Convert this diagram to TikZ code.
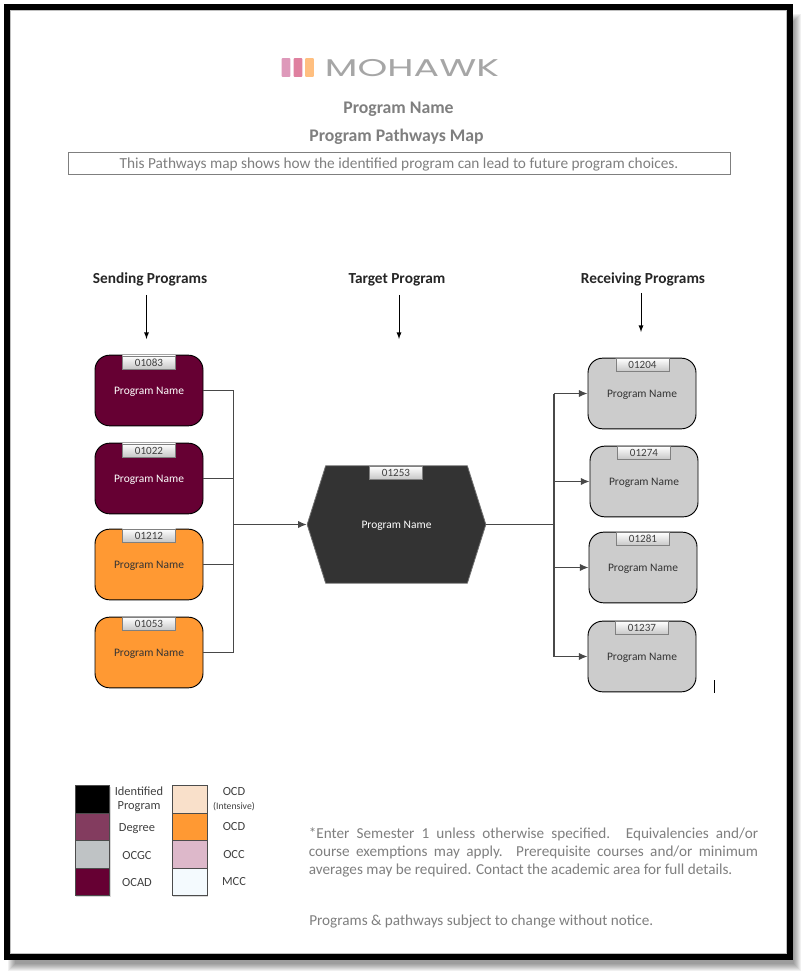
\documentclass[tikz,border=0pt]{standalone}
\usepackage{fontspec}
\usepackage{graphicx}
\setmainfont{Carlito}
\newfontfamily\logofont{Poppins}
\usetikzlibrary{shapes.symbols,shadows,arrows.meta}
\definecolor{ocad}{HTML}{660033}
\definecolor{ocd}{HTML}{FF9933}
\definecolor{recv}{HTML}{CCCCCC}
\definecolor{target}{HTML}{333333}
\definecolor{txtgray}{HTML}{7F7F7F}
\definecolor{wire}{HTML}{484848}
\definecolor{keydegree}{HTML}{833C5F}
\definecolor{keyocgc}{HTML}{BFC3C5}
\definecolor{keyint}{HTML}{F9E0CA}
\definecolor{keyocc}{HTML}{DDB8CA}
\definecolor{keymcc}{HTML}{F4FAFE}
\tikzset{
	progbox/.style={draw=black, rounded corners=11pt, line width=0.7pt, minimum width=81pt, minimum height=53pt, inner sep=0pt, text height=7.2pt, text depth=1.9pt, font=\fontsize{8.6}{10}\selectfont},
	idtab/.style={draw=gray, line width=0.4pt, top color=white, bottom color=gray!45, minimum width=40pt, minimum height=10pt, inner sep=0pt, text=black!75, font=\fontsize{8.3}{10}\selectfont},
	wireline/.style={draw=wire, line width=1pt},
	flowline/.style={wireline, -{Latex[length=6.5pt,width=5.5pt]}},
	headarrow/.style={line width=0.7pt, ->, >=latex},
	swatch/.style={draw=black!70, line width=0.6pt, minimum width=26pt, minimum height=20.6pt, inner sep=0pt, drop shadow={shadow xshift=0.6pt, shadow yshift=-0.6pt, opacity=0.3}},
	keytext/.style={text=black!75, align=center, inner sep=0pt, font=\fontsize{9.3}{10.8}\selectfont},
	colhead/.style={inner sep=0pt, text height=8pt, text depth=2.5pt, text=black!85, font=\bfseries\fontsize{11.5}{13}\selectfont},
	pagehead/.style={inner sep=0pt, text=txtgray, font=\bfseries\fontsize{13.3}{15}\selectfont},
	logobar/.style={minimum width=6.4pt, minimum height=14.2pt, inner sep=0pt, rounded corners=0.6pt}
}
\begin{document}
\begin{tikzpicture}[x=0.75pt, y=-0.75pt]
	\useasboundingbox (0,0) rectangle (805,973);
	\foreach \s in {0,1,...,7}
		\fill[black, opacity=0.06] (8+\s,14+\s) rectangle (801-\s,971-\s);
	\fill[white] (7,7) rectangle (790,956.5);
	\draw[line width=4.5pt] (7,7) rectangle (790,956.5);
	\draw[black!25, line width=0.7pt] (10.5,10.5) rectangle (786.5,953.5);

	\draw (286,67.5) node[logobar, fill=red!35!violet!40!white] (L1) {};
	\draw (298,67.5) node[logobar, fill=purple!50!white] (L2) {};
	\draw (309.5,67.5) node[logobar, fill=orange!50!white] (L3) {};
	\draw (412,68.5) node[inner sep=0pt, text=black!35] (LOGO) {\resizebox{130.5pt}{12.8pt}{\logofont MOHAWK}};
	\draw (398.5,109.5) node[pagehead] (NAME) {Program Name};
	\draw (396.5,136.5) node[pagehead] (MAP) {Program Pathways Map};
	\draw (399,163.5) node[draw=txtgray, line width=0.6pt, minimum width=496.5pt, minimum height=17pt, inner sep=0pt, text height=10pt, text depth=2.6pt, text=txtgray, font=\fontsize{11.5}{13}\selectfont] (INTRO) {This Pathways map shows how the identified program can lead to future program choices.};

	\draw (150,280) node[colhead] (HS) {Sending Programs};
	\draw (397,280) node[colhead] (HT) {Target Program};
	\draw (643,280) node[colhead] (HR) {Receiving Programs};
	\coordinate (HS1) at (146.5,295);
	\coordinate (HS2) at (146.5,339);
	\coordinate (HT1) at (399,295);
	\coordinate (HT2) at (399,339);
	\coordinate (HR1) at (641,293);
	\coordinate (HR2) at (641,332);
	\draw[headarrow] (HS1) to (HS2);
	\draw[headarrow] (HT1) to (HT2);
	\draw[headarrow] (HR1) to (HR2);

	\draw (149,390.5) node[progbox, fill=ocad, text=white] (S1) {Program Name};
	\draw (149,478.5) node[progbox, fill=ocad, text=white] (S2) {Program Name};
	\draw (149,564.5) node[progbox, fill=ocd, text=black!80] (S3) {Program Name};
	\draw (149,652.5) node[progbox, fill=ocd, text=black!80] (S4) {Program Name};
	\draw (149,362.5) node[idtab] (ID1) {01083};
	\draw (149,450.5) node[idtab] (ID2) {01022};
	\draw (149,535.5) node[idtab] (ID3) {01212};
	\draw (149,624) node[idtab] (ID4) {01053};

	\draw (396.5,524.5) node[signal, signal to=west and east, signal pointer angle=145, fill=target, draw=target!70, line width=0.6pt, minimum width=134pt, minimum height=88pt, inner sep=0pt, text height=7.2pt, text depth=1.9pt, text=white, font=\fontsize{8.6}{10}\selectfont] (T) {Program Name};
	\draw (396,473) node[idtab] (IDT) {01253};

	\draw (642,393.5) node[progbox, fill=recv, text=black!80] (R1) {Program Name};
	\draw (644,481.5) node[progbox, fill=recv, text=black!80] (R2) {Program Name};
	\draw (643,567.5) node[progbox, fill=recv, text=black!80] (R3) {Program Name};
	\draw (642,656.5) node[progbox, fill=recv, text=black!80] (R4) {Program Name};
	\draw (642.5,365) node[idtab] (ID5) {01204};
	\draw (644,453) node[idtab] (ID6) {01274};
	\draw (643,539) node[idtab] (ID7) {01281};
	\draw (642,628) node[idtab] (ID8) {01237};

	\coordinate (JS) at (233.5,524.5);
	\coordinate (JR) at (554,524.5);
	\draw[wireline] (S1) -| (JS) (S2) -| (JS) (S3) -| (JS) (S4) -| (JS);
	\draw[flowline] (JS) to (T.west);
	\draw[wireline] (T.east) to (JR);
	\draw[wireline] (R1 -| JR) to (R4 -| JR);
	\draw[flowline] (R1 -| JR) to (R1);
	\draw[flowline] (R2 -| JR) to (R2);
	\draw[flowline] (R3 -| JR) to (R3);
	\draw[flowline] (R4 -| JR) to (R4);

	\coordinate (M1) at (714,680);
	\coordinate (M2) at (714,693);
	\draw[line width=0.7pt] (M1) to (M2);

	\draw (92.5,799.5) node[swatch, fill=black] (K1) {};
	\draw (92.5,827) node[swatch, fill=keydegree] (K2) {};
	\draw (92.5,854.5) node[swatch, fill=keyocgc] (K3) {};
	\draw (92.5,882) node[swatch, fill=ocad] (K4) {};
	\draw (190,799.5) node[swatch, fill=keyint] (K5) {};
	\draw (190,827) node[swatch, fill=ocd] (K6) {};
	\draw (190,854.5) node[swatch, fill=keyocc] (K7) {};
	\draw (190,882) node[swatch, fill=keymcc] (K8) {};
	\draw (139,799.5) node[keytext] (KT1) {Identified\\Program};
	\draw (137,828.5) node[keytext] (KT2) {Degree};
	\draw (137,855.5) node[keytext] (KT3) {OCGC};
	\draw (137,883) node[keytext] (KT4) {OCAD};
	\draw (234,791.5) node[keytext] (KT5) {OCD};
	\draw (234,806.5) node[keytext, font=\fontsize{7.3}{8}\selectfont] (KT6) {(Intensive)};
	\draw (234,826.5) node[keytext] (KT7) {OCD};
	\draw (234,854.5) node[keytext] (KT8) {OCC};
	\draw (234,882) node[keytext] (KT9) {MCC};

	\draw (533.5,852.5) node[text width=337pt, align=justify, inner sep=0pt, text=txtgray, font=\fontsize{11.4}{13.2}\selectfont] (NOTE) {*Enter Semester 1 unless otherwise specified. Equivalencies and/or\linebreak course exemptions may apply. Prerequisite courses and/or minimum\linebreak averages may be required. Contact the academic area for full details.};
	\draw (309,921.5) node[anchor=west, inner sep=0pt, text=txtgray, font=\fontsize{11.4}{13}\selectfont] (NOTICE) {Programs \& pathways subject to change without notice.};
\end{tikzpicture}
\end{document}
